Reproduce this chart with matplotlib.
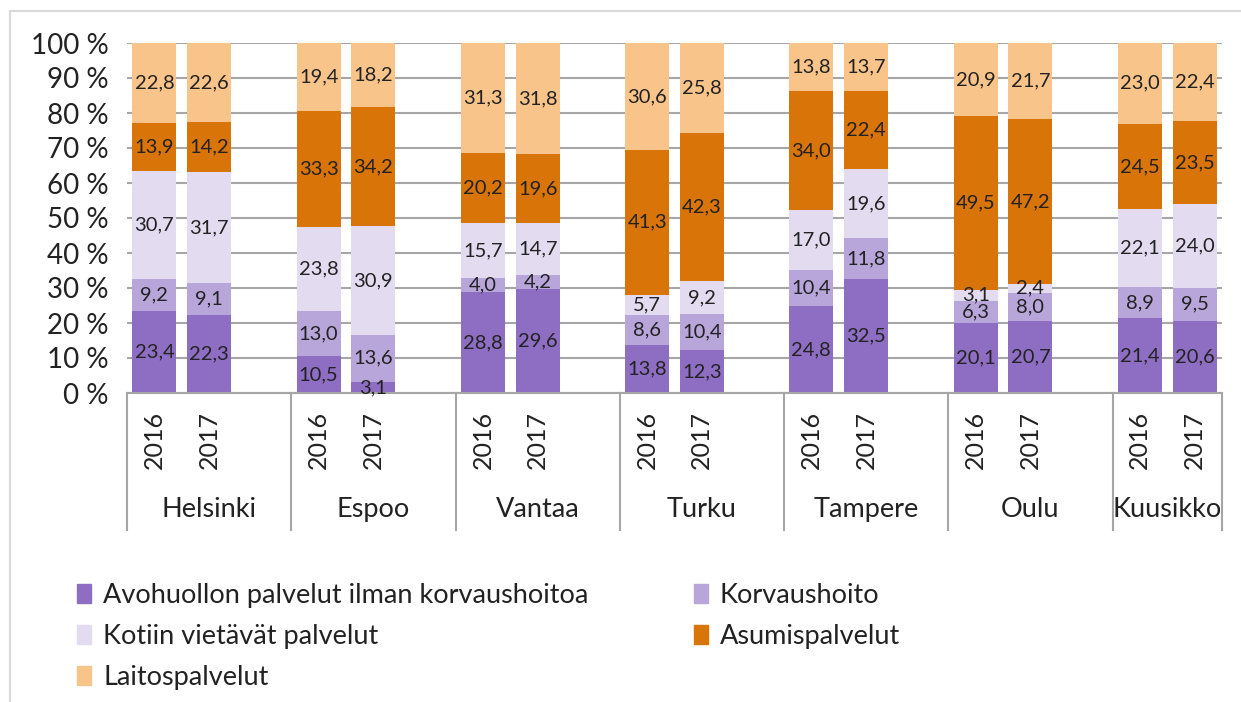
import matplotlib
matplotlib.use("Agg")
import matplotlib.pyplot as plt
import matplotlib.transforms as mtransforms
from matplotlib.patches import Patch, Rectangle
import numpy as np

plt.rcParams['font.family'] = ['Lato', 'DejaVu Sans']

cities = ["Helsinki", "Espoo", "Vantaa", "Turku", "Tampere", "Oulu", "Kuusikko"]
years = ["2016", "2017"]
series = ["Avohuollon palvelut ilman korvaushoitoa", "Korvaushoito",
          "Kotiin vietävät palvelut", "Asumispalvelut", "Laitospalvelut"]
colors = ["#8E6EC2", "#B8A6DB", "#E3DBF0", "#D97408", "#F9C48A"]

# values per bar (city-year order): Helsinki16, Helsinki17, Espoo16, ...
avohuolto = [23.4, 22.3, 10.5, 3.1, 28.8, 29.6, 13.8, 12.3, 24.8, 32.5, 20.1, 20.7, 21.4, 20.6]
korvaus   = [9.2, 9.1, 13.0, 13.6, 4.0, 4.2, 8.6, 10.4, 10.4, 11.8, 6.3, 8.0, 8.9, 9.5]
kotiin    = [30.7, 31.7, 23.8, 30.9, 15.7, 14.7, 5.7, 9.2, 17.0, 19.6, 3.1, 2.4, 22.1, 24.0]
asumis    = [13.9, 14.2, 33.3, 34.2, 20.2, 19.6, 41.3, 42.3, 34.0, 22.4, 49.5, 47.2, 24.5, 23.5]
laitos    = [22.8, 22.6, 19.4, 18.2, 31.3, 31.8, 30.6, 25.8, 13.8, 13.7, 20.9, 21.7, 23.0, 22.4]

data = np.array([avohuolto, korvaus, kotiin, asumis, laitos])
pct = data / data.sum(axis=0) * 100

# x positions: 3 slots per city (2016, 2017, gap), last city without gap
xpos = []
for g in range(len(cities)):
    xpos += [3 * g, 3 * g + 1]
xpos = np.array(xpos)

fig = plt.figure(figsize=(12.41, 7.02), dpi=100)
ax = fig.add_axes([127 / 1241, 309 / 702, (1222 - 127) / 1241, 350 / 702])

# chart border
fig.patches.append(Rectangle((10 / 1241, -0.1), 1.2, (702 - 11) / 702 + 0.1,
                             transform=fig.transFigure, fill=False,
                             edgecolor="#D9D9D9", linewidth=1.5))

bottom = np.zeros(len(xpos))
for i in range(len(series)):
    ax.bar(xpos, pct[i], 0.8, bottom=bottom, color=colors[i],
           label=series[i], zorder=2)
    for x, b, h, v in zip(xpos, bottom, pct[i], data[i]):
        ax.text(x, b + h / 2, f"{v:.1f}".replace(".", ","), ha="center",
                va="center", fontsize=14.5, color="#222222", zorder=3)
    bottom += pct[i]

ax.set_xlim(-0.5, 3 * len(cities) - 1.5)
ax.set_ylim(0, 100)
ax.set_yticks(range(0, 101, 10))
ax.set_yticklabels([f"{t} %" for t in range(0, 101, 10)], fontsize=20, color="#222222")
ax.yaxis.grid(True, color="#A6A6A6", linewidth=1.5, zorder=0)
ax.set_axisbelow(True)
ax.tick_params(axis="y", length=0, pad=13)
ax.set_xticks([])
for s in ["left", "right", "top"]:
    ax.spines[s].set_visible(False)
ax.spines["bottom"].set_color("#A6A6A6")
ax.spines["bottom"].set_linewidth(1.5)

trans = mtransforms.blended_transform_factory(ax.transData, ax.transAxes)
# group separators
bounds = [-0.5] + [3 * g + 2.5 for g in range(len(cities) - 1)] + [3 * len(cities) - 1.5]
for b in bounds:
    ax.plot([b, b], [0, -0.39], transform=trans, color="#A6A6A6",
            linewidth=1.5, clip_on=False)
for x, lab in zip(xpos, years * len(cities)):
    ax.text(x, -0.134, lab, rotation=90, ha="center", va="center",
            fontsize=18, color="#222222", transform=trans)
for g, c in enumerate(cities):
    ax.text((bounds[g] + bounds[g + 1]) / 2, -0.334, c, ha="center", va="center",
            fontsize=19.5, color="#222222", transform=trans)

handles = [Patch(color=c) for c in colors]
order = [0, 2, 4, 1, 3]
fig.legend([handles[i] for i in order], [series[i] for i in order],
           loc="upper left", bbox_to_anchor=(53 / 1241, 1 - 559 / 702),
           ncol=2, frameon=False, fontsize=19.5, handlelength=0.5,
           handleheight=0.7, handletextpad=0.45, columnspacing=3.9,
           labelspacing=0.58, labelcolor="#222222")

fig.savefig("out.png", dpi=100)
